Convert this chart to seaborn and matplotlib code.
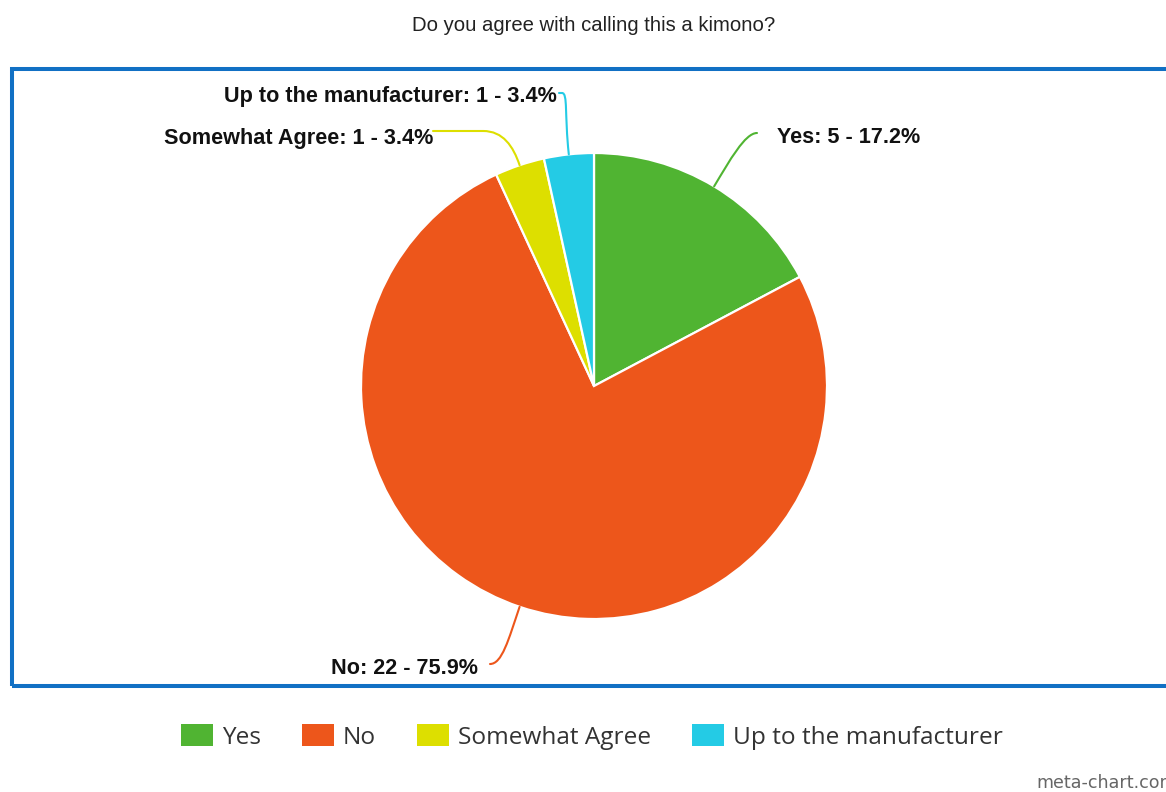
import numpy as np
import matplotlib
matplotlib.use("Agg")
import matplotlib.pyplot as plt
from matplotlib.patches import Rectangle, Patch
from matplotlib.path import Path
from matplotlib.patches import PathPatch
import seaborn as sns

# Survey answers
categories = ["Yes", "No", "Somewhat Agree", "Up to the manufacturer"]
counts = [5, 22, 1, 1]
colors = ["#50B432", "#ED561B", "#DDDF00", "#24CBE5"]
title = "Do you agree with calling this a kimono?"

sns.set_theme(style="white")
plt.rcParams["font.family"] = ["Liberation Sans", "DejaVu Sans"]

W, H = 1166, 792
fig = plt.figure(figsize=(W / 100, H / 100), dpi=100)
fig.patch.set_facecolor("white")
ax = fig.add_axes([0, 0, 1, 1])


def pt(x, y):
    """Pixel position measured from the top-left corner -> axes data."""
    return np.array([x, H - y], dtype=float)


center = pt(594, 386)
radius = 233
wedges, _ = ax.pie(counts, colors=colors, startangle=90, counterclock=False,
                   center=tuple(center), radius=radius,
                   wedgeprops=dict(edgecolor="white", linewidth=1.6))

ax.set_xlim(0, W)
ax.set_ylim(0, H)
ax.set_aspect("equal")
ax.set_axis_off()

# Frame around the plot area (runs off the right edge)
ax.add_patch(Rectangle(tuple(pt(12, 686)), 1300, 617, fill=False,
                       edgecolor="#1170C4", linewidth=2.9, zorder=0))

ax.text(594, H - 31, title, ha="center", va="baseline", fontsize=14.6,
        color="#222222")

total = sum(counts)
# label layout: (text anchor, alignment, connector end, knee offset, radial pull, bend)
layout = [
    (pt(777, 143), "left", pt(757, 133), 0, 30, 12),
    (pt(478, 674), "right", pt(490, 664), 0, 35, 12),
    (pt(433, 144), "right", pt(433, 131), 50, 20, 20),
    (pt(557, 102), "right", pt(559, 93), 3, 40, 6),
]

for w, cat, n, c, (anchor, ha, end, knee_off, pull, bend) in zip(
        wedges, categories, counts, colors, layout):
    mid = np.deg2rad((w.theta1 + w.theta2) / 2)
    d = np.array([np.cos(mid), np.sin(mid)])
    p0 = center + radius * d
    s = 1 if ha == "left" else -1
    knee = end - np.array([s * knee_off, 0])
    p1 = p0 + d * pull
    p2 = knee - np.array([s * bend, 0])
    verts = [p0, p1, p2, knee, end]
    codes = [Path.MOVETO, Path.CURVE4, Path.CURVE4, Path.CURVE4, Path.LINETO]
    ax.add_patch(PathPatch(Path(verts, codes), fill=False, edgecolor=c,
                           linewidth=1.5, capstyle="round"))
    pct = 100 * n / total
    ax.text(anchor[0], anchor[1], f"{cat}: {n} - {pct:.1f}%", ha=ha,
            va="baseline", fontsize=15.6, fontweight="bold", color="#111111")

handles = [Patch(facecolor=c, edgecolor="none", label=lab)
           for c, lab in zip(colors, categories)]
leg = fig.legend(handles=handles, loc="center", ncol=4,
                 bbox_to_anchor=(592 / W, 1 - 737 / H), frameon=False,
                 prop=dict(family="Open Sans", size=17.6),
                 handlelength=1.31, handleheight=1.02, handletextpad=0.37,
                 columnspacing=1.68, borderpad=0)
for t in leg.get_texts():
    t.set_color("#333333")

ax.text(1036, H - 783, "meta-chart.com", ha="left", va="center",
        fontsize=12.6, color="#666666", family="DejaVu Sans")

fig.savefig("out.png", dpi=100, facecolor="white")
